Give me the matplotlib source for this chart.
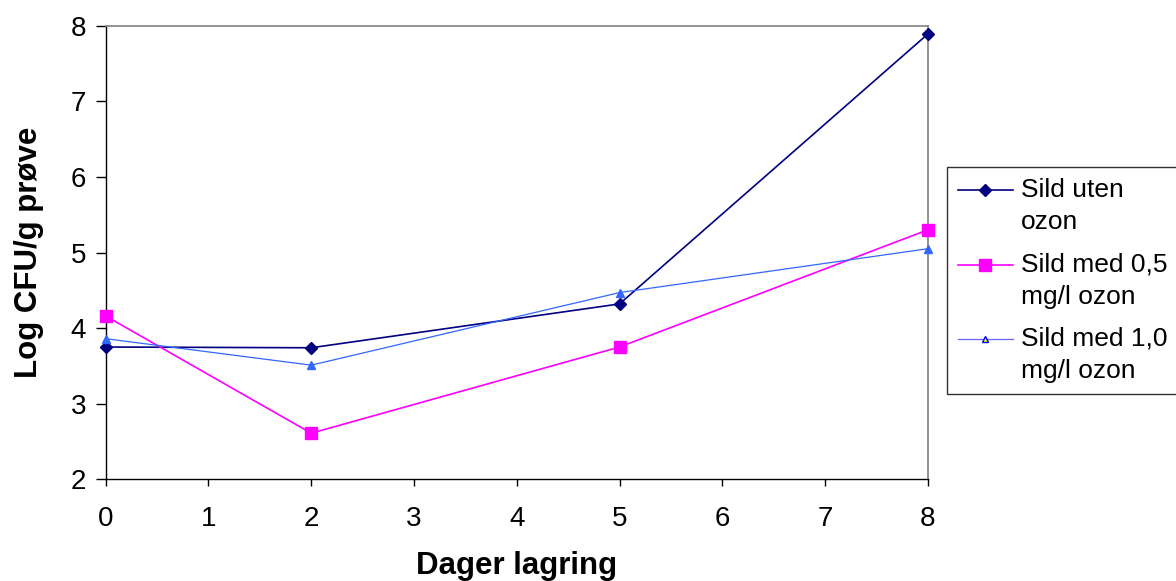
import matplotlib.pyplot as plt
from matplotlib.legend_handler import HandlerLine2D

plt.rcParams['font.family'] = ['Liberation Sans', 'DejaVu Sans']

# Data
days = [0, 2, 5, 8]
uten_ozon = [3.75, 3.74, 4.32, 7.89]
med_05 = [4.16, 2.61, 3.75, 5.30]
med_10 = [3.86, 3.51, 4.47, 5.05]

labels = ['Sild uten\nozon', 'Sild med 0,5\nmg/l ozon', 'Sild med 1,0\nmg/l ozon']
x_ticks = [0, 1, 2, 3, 4, 5, 6, 7, 8]
y_ticks = [2, 3, 4, 5, 6, 7, 8]


# legend handle sits on the first text line, like Excel does it
class TopLineHandler(HandlerLine2D):
    def create_artists(self, legend, orig_handle, xdescent, ydescent,
                       width, height, fontsize, trans):
        return super().create_artists(legend, orig_handle, xdescent,
                                      ydescent - 23, width, height,
                                      fontsize, trans)


fig = plt.figure(figsize=(11.76, 5.81), dpi=100)
ax = fig.add_axes([0.0899, 0.175, 0.789 - 0.0899, 0.9558 - 0.175])

l1, = ax.plot(days, uten_ozon, color='#000080', marker='D', markersize=6,
              linewidth=1.2, label=labels[0], clip_on=False, zorder=3)
l2, = ax.plot(days, med_05, color='#FF00FF', marker='s', markersize=8,
              linewidth=1.2, label=labels[1], clip_on=False, zorder=3)
l3, = ax.plot(days, med_10, color='#3366FF', marker='^', markersize=6,
              linewidth=0.9, label=labels[2], clip_on=False, zorder=3)

ax.set_xlim(0, 8)
ax.set_ylim(2, 8)
ax.set_xticks(x_ticks)
ax.set_yticks(y_ticks)
ax.tick_params(axis='both', labelsize=20, direction='out', color='black', width=1)
ax.tick_params(axis='x', length=5, pad=14)
ax.tick_params(axis='y', length=7, pad=7)

for s in ['top', 'right']:
    ax.spines[s].set_color('#808080')
    ax.spines[s].set_linewidth(1.2)
for s in ['left', 'bottom']:
    ax.spines[s].set_color('black')
    ax.spines[s].set_linewidth(1)

ax.set_xlabel('Dager lagring', fontsize=22.5, fontweight='bold', labelpad=14)
ax.set_ylabel('Log CFU/g prøve', fontsize=22.5, fontweight='bold', labelpad=19)

handler = TopLineHandler()
leg = fig.legend(loc='upper left', bbox_to_anchor=(947 / 1176, 1 - 167 / 581),
                 fontsize=19, frameon=True, fancybox=False, handlelength=2.1,
                 handletextpad=0.3, labelspacing=0.68, borderpad=0.4,
                 borderaxespad=0,
                 handler_map={l1: handler, l2: handler, l3: handler})
leg.get_frame().set_edgecolor('black')
leg.get_frame().set_linewidth(1)
for t in leg.get_texts():
    t.set_linespacing(1.45)
h = leg.legend_handles[2]
h.set_markerfacecolor('yellow')
h.set_markeredgecolor('#0000FF')
h.set_markersize(5)
h.set_color('#6666FF')

fig.savefig('out.png', dpi=100)
